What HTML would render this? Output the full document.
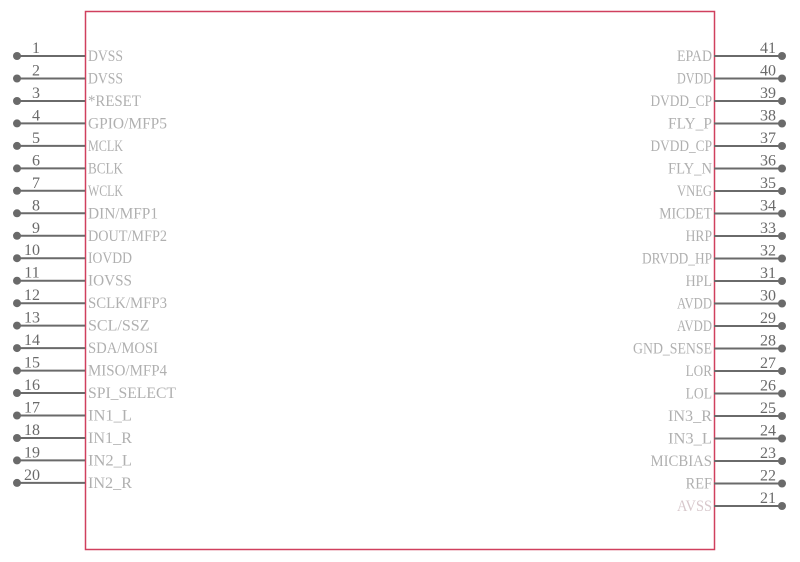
<!DOCTYPE html>
<html><head><meta charset="utf-8"><style>
html,body{margin:0;padding:0;background:#fff;width:800px;height:562px;overflow:hidden}
svg text{font-family:"Liberation Serif",serif;font-size:16px}
.l{fill:#b0b0b0}
.n{fill:#6a6a6a}
</style></head><body>
<svg width="800" height="562" xmlns="http://www.w3.org/2000/svg">
<rect x="85.5" y="11.5" width="629" height="538" fill="none" stroke="#d0405e" stroke-width="1.5"/>
<g stroke="#6a6a6a" stroke-width="2">
<line x1="17" y1="56" x2="85" y2="56"/><line x1="17" y1="78.5" x2="85" y2="78.5"/><line x1="17" y1="101" x2="85" y2="101"/><line x1="17" y1="123.4" x2="85" y2="123.4"/><line x1="17" y1="145.9" x2="85" y2="145.9"/><line x1="17" y1="168.4" x2="85" y2="168.4"/><line x1="17" y1="190.8" x2="85" y2="190.8"/><line x1="17" y1="213.3" x2="85" y2="213.3"/><line x1="17" y1="235.8" x2="85" y2="235.8"/><line x1="17" y1="258.2" x2="85" y2="258.2"/><line x1="17" y1="280.7" x2="85" y2="280.7"/><line x1="17" y1="303.2" x2="85" y2="303.2"/><line x1="17" y1="325.6" x2="85" y2="325.6"/><line x1="17" y1="348.1" x2="85" y2="348.1"/><line x1="17" y1="370.6" x2="85" y2="370.6"/><line x1="17" y1="393" x2="85" y2="393"/><line x1="17" y1="415.5" x2="85" y2="415.5"/><line x1="17" y1="438" x2="85" y2="438"/><line x1="17" y1="460.4" x2="85" y2="460.4"/><line x1="17" y1="482.9" x2="85" y2="482.9"/>
<line x1="714" y1="56" x2="782" y2="56"/><line x1="714" y1="78.5" x2="782" y2="78.5"/><line x1="714" y1="101" x2="782" y2="101"/><line x1="714" y1="123.5" x2="782" y2="123.5"/><line x1="714" y1="146" x2="782" y2="146"/><line x1="714" y1="168.5" x2="782" y2="168.5"/><line x1="714" y1="191" x2="782" y2="191"/><line x1="714" y1="213.5" x2="782" y2="213.5"/><line x1="714" y1="236" x2="782" y2="236"/><line x1="714" y1="258.5" x2="782" y2="258.5"/><line x1="714" y1="281" x2="782" y2="281"/><line x1="714" y1="303.5" x2="782" y2="303.5"/><line x1="714" y1="326" x2="782" y2="326"/><line x1="714" y1="348.5" x2="782" y2="348.5"/><line x1="714" y1="371" x2="782" y2="371"/><line x1="714" y1="393.5" x2="782" y2="393.5"/><line x1="714" y1="416" x2="782" y2="416"/><line x1="714" y1="438.5" x2="782" y2="438.5"/><line x1="714" y1="461" x2="782" y2="461"/><line x1="714" y1="483.5" x2="782" y2="483.5"/><line x1="714" y1="506" x2="782" y2="506"/>
</g>
<g fill="#6a6a6a">
<circle cx="17" cy="56" r="4"/><circle cx="17" cy="78.5" r="4"/><circle cx="17" cy="101" r="4"/><circle cx="17" cy="123.4" r="4"/><circle cx="17" cy="145.9" r="4"/><circle cx="17" cy="168.4" r="4"/><circle cx="17" cy="190.8" r="4"/><circle cx="17" cy="213.3" r="4"/><circle cx="17" cy="235.8" r="4"/><circle cx="17" cy="258.2" r="4"/><circle cx="17" cy="280.7" r="4"/><circle cx="17" cy="303.2" r="4"/><circle cx="17" cy="325.6" r="4"/><circle cx="17" cy="348.1" r="4"/><circle cx="17" cy="370.6" r="4"/><circle cx="17" cy="393" r="4"/><circle cx="17" cy="415.5" r="4"/><circle cx="17" cy="438" r="4"/><circle cx="17" cy="460.4" r="4"/><circle cx="17" cy="482.9" r="4"/>
<circle cx="782" cy="56" r="4"/><circle cx="782" cy="78.5" r="4"/><circle cx="782" cy="101" r="4"/><circle cx="782" cy="123.5" r="4"/><circle cx="782" cy="146" r="4"/><circle cx="782" cy="168.5" r="4"/><circle cx="782" cy="191" r="4"/><circle cx="782" cy="213.5" r="4"/><circle cx="782" cy="236" r="4"/><circle cx="782" cy="258.5" r="4"/><circle cx="782" cy="281" r="4"/><circle cx="782" cy="303.5" r="4"/><circle cx="782" cy="326" r="4"/><circle cx="782" cy="348.5" r="4"/><circle cx="782" cy="371" r="4"/><circle cx="782" cy="393.5" r="4"/><circle cx="782" cy="416" r="4"/><circle cx="782" cy="438.5" r="4"/><circle cx="782" cy="461" r="4"/><circle cx="782" cy="483.5" r="4"/><circle cx="782" cy="506" r="4"/>
</g>
<g class="n" text-anchor="middle">
<text x="36" y="53">1</text><text x="36" y="75.5">2</text><text x="36" y="98">3</text><text x="36" y="120.4">4</text><text x="36" y="142.9">5</text><text x="36" y="165.4">6</text><text x="36" y="187.8">7</text><text x="36" y="210.3">8</text><text x="36" y="232.8">9</text><text x="32" y="255.2">10</text><text x="32" y="277.7">11</text><text x="32" y="300.2">12</text><text x="32" y="322.6">13</text><text x="32" y="345.1">14</text><text x="32" y="367.6">15</text><text x="32" y="390">16</text><text x="32" y="412.5">17</text><text x="32" y="435">18</text><text x="32" y="457.4">19</text><text x="32" y="479.9">20</text>
<text x="768" y="53">41</text><text x="768" y="75.5">40</text><text x="768" y="98">39</text><text x="768" y="120.5">38</text><text x="768" y="143">37</text><text x="768" y="165.5">36</text><text x="768" y="188">35</text><text x="768" y="210.5">34</text><text x="768" y="233">33</text><text x="768" y="255.5">32</text><text x="768" y="278">31</text><text x="768" y="300.5">30</text><text x="768" y="323">29</text><text x="768" y="345.5">28</text><text x="768" y="368">27</text><text x="768" y="390.5">26</text><text x="768" y="413">25</text><text x="768" y="435.5">24</text><text x="768" y="458">23</text><text x="768" y="480.5">22</text><text x="768" y="503">21</text>
</g>
<g class="l" lengthAdjust="spacingAndGlyphs">
<text x="88" y="61" textLength="35" lengthAdjust="spacingAndGlyphs">DVSS</text><text x="88" y="83.5" textLength="35" lengthAdjust="spacingAndGlyphs">DVSS</text><text x="88" y="106" textLength="52.8" lengthAdjust="spacingAndGlyphs">*RESET</text><text x="88" y="128.4" textLength="79" lengthAdjust="spacingAndGlyphs">GPIO/MFP5</text><text x="88" y="150.9" textLength="35" lengthAdjust="spacingAndGlyphs">MCLK</text><text x="88" y="173.4" textLength="35" lengthAdjust="spacingAndGlyphs">BCLK</text><text x="88" y="195.8" textLength="35" lengthAdjust="spacingAndGlyphs">WCLK</text><text x="88" y="218.3" textLength="70" lengthAdjust="spacingAndGlyphs">DIN/MFP1</text><text x="88" y="240.8" textLength="79" lengthAdjust="spacingAndGlyphs">DOUT/MFP2</text><text x="88" y="263.2" textLength="44" lengthAdjust="spacingAndGlyphs">IOVDD</text><text x="88" y="285.7" textLength="44" lengthAdjust="spacingAndGlyphs">IOVSS</text><text x="88" y="308.2" textLength="79" lengthAdjust="spacingAndGlyphs">SCLK/MFP3</text><text x="88" y="330.6" textLength="61.5" lengthAdjust="spacingAndGlyphs">SCL/SSZ</text><text x="88" y="353.1" textLength="70" lengthAdjust="spacingAndGlyphs">SDA/MOSI</text><text x="88" y="375.6" textLength="79" lengthAdjust="spacingAndGlyphs">MISO/MFP4</text><text x="88" y="398" textLength="88" lengthAdjust="spacingAndGlyphs">SPI_SELECT</text><text x="88" y="420.5" textLength="44" lengthAdjust="spacingAndGlyphs">IN1_L</text><text x="88" y="443" textLength="44" lengthAdjust="spacingAndGlyphs">IN1_R</text><text x="88" y="465.4" textLength="44" lengthAdjust="spacingAndGlyphs">IN2_L</text><text x="88" y="487.9" textLength="44" lengthAdjust="spacingAndGlyphs">IN2_R</text>
</g>
<g class="l" text-anchor="end">
<text x="712" y="61" textLength="35" lengthAdjust="spacingAndGlyphs">EPAD</text><text x="712" y="83.5" textLength="35" lengthAdjust="spacingAndGlyphs">DVDD</text><text x="712" y="106" textLength="61.5" lengthAdjust="spacingAndGlyphs">DVDD_CP</text><text x="712" y="128.5" textLength="44" lengthAdjust="spacingAndGlyphs">FLY_P</text><text x="712" y="151" textLength="61.5" lengthAdjust="spacingAndGlyphs">DVDD_CP</text><text x="712" y="173.5" textLength="44" lengthAdjust="spacingAndGlyphs">FLY_N</text><text x="712" y="196" textLength="35" lengthAdjust="spacingAndGlyphs">VNEG</text><text x="712" y="218.5" textLength="52.8" lengthAdjust="spacingAndGlyphs">MICDET</text><text x="712" y="241" textLength="26.4" lengthAdjust="spacingAndGlyphs">HRP</text><text x="712" y="263.5" textLength="70" lengthAdjust="spacingAndGlyphs">DRVDD_HP</text><text x="712" y="286" textLength="26.4" lengthAdjust="spacingAndGlyphs">HPL</text><text x="712" y="308.5" textLength="35" lengthAdjust="spacingAndGlyphs">AVDD</text><text x="712" y="331" textLength="35" lengthAdjust="spacingAndGlyphs">AVDD</text><text x="712" y="353.5" textLength="79" lengthAdjust="spacingAndGlyphs">GND_SENSE</text><text x="712" y="376" textLength="26.4" lengthAdjust="spacingAndGlyphs">LOR</text><text x="712" y="398.5" textLength="26.4" lengthAdjust="spacingAndGlyphs">LOL</text><text x="712" y="421" textLength="44" lengthAdjust="spacingAndGlyphs">IN3_R</text><text x="712" y="443.5" textLength="44" lengthAdjust="spacingAndGlyphs">IN3_L</text><text x="712" y="466" textLength="61.5" lengthAdjust="spacingAndGlyphs">MICBIAS</text><text x="712" y="488.5" textLength="26.4" lengthAdjust="spacingAndGlyphs">REF</text><text x="712" y="511" fill="#d8c8cc" textLength="35" lengthAdjust="spacingAndGlyphs">AVSS</text>
</g>
</svg>
</body></html>
